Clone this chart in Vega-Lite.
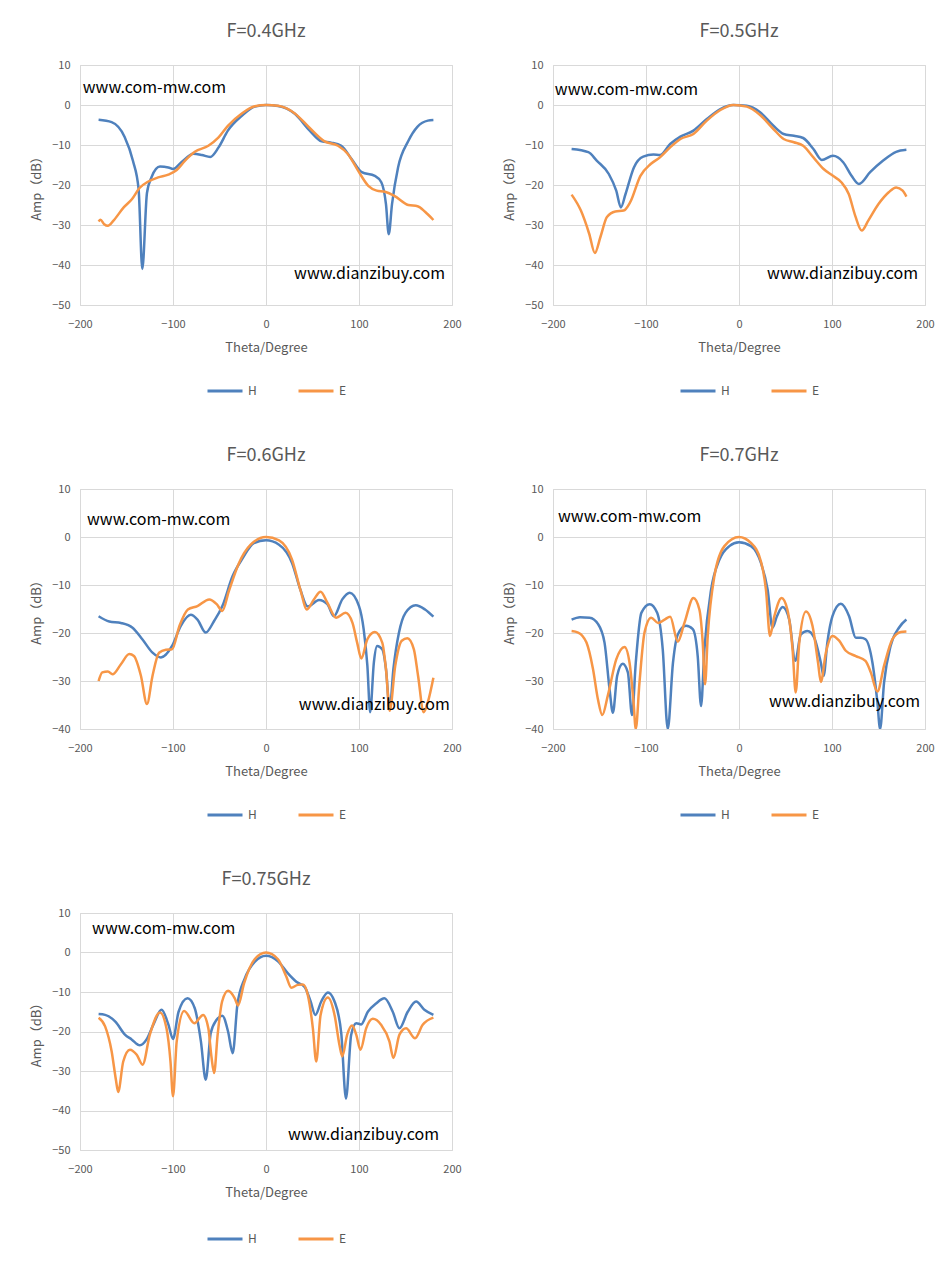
{
  "$schema": "https://vega.github.io/schema/vega-lite/v6.json",
  "background": "white",
  "padding": {"left": 30, "top": 22, "right": 5, "bottom": 5},
  "data": {
    "values": [
      {"f": 0.4, "s": "H", "theta": -180, "amp": -3.7},
      {"f": 0.4, "s": "H", "theta": -166, "amp": -4.3},
      {"f": 0.4, "s": "H", "theta": -152, "amp": -8},
      {"f": 0.4, "s": "H", "theta": -143, "amp": -14},
      {"f": 0.4, "s": "H", "theta": -137, "amp": -21},
      {"f": 0.4, "s": "H", "theta": -133, "amp": -41},
      {"f": 0.4, "s": "H", "theta": -128, "amp": -22},
      {"f": 0.4, "s": "H", "theta": -123, "amp": -18},
      {"f": 0.4, "s": "H", "theta": -114, "amp": -15.4},
      {"f": 0.4, "s": "H", "theta": -105, "amp": -15.6},
      {"f": 0.4, "s": "H", "theta": -100, "amp": -16},
      {"f": 0.4, "s": "H", "theta": -91, "amp": -14.3},
      {"f": 0.4, "s": "H", "theta": -78, "amp": -12.2},
      {"f": 0.4, "s": "H", "theta": -69, "amp": -12.5},
      {"f": 0.4, "s": "H", "theta": -60, "amp": -13},
      {"f": 0.4, "s": "H", "theta": -51, "amp": -10.6},
      {"f": 0.4, "s": "H", "theta": -41, "amp": -6.4},
      {"f": 0.4, "s": "H", "theta": -26, "amp": -2.7},
      {"f": 0.4, "s": "H", "theta": -12, "amp": -0.4},
      {"f": 0.4, "s": "H", "theta": 0, "amp": 0},
      {"f": 0.4, "s": "H", "theta": 13, "amp": -0.25},
      {"f": 0.4, "s": "H", "theta": 31, "amp": -2.2},
      {"f": 0.4, "s": "H", "theta": 47, "amp": -6.4},
      {"f": 0.4, "s": "H", "theta": 60, "amp": -9.1},
      {"f": 0.4, "s": "H", "theta": 70, "amp": -9.4},
      {"f": 0.4, "s": "H", "theta": 81, "amp": -10.2},
      {"f": 0.4, "s": "H", "theta": 92, "amp": -13.5},
      {"f": 0.4, "s": "H", "theta": 103, "amp": -16.8},
      {"f": 0.4, "s": "H", "theta": 117, "amp": -17.7},
      {"f": 0.4, "s": "H", "theta": 124, "amp": -19.3},
      {"f": 0.4, "s": "H", "theta": 129, "amp": -24.8},
      {"f": 0.4, "s": "H", "theta": 132, "amp": -32.3},
      {"f": 0.4, "s": "H", "theta": 135.5, "amp": -24.8},
      {"f": 0.4, "s": "H", "theta": 142, "amp": -15.6},
      {"f": 0.4, "s": "H", "theta": 153, "amp": -9},
      {"f": 0.4, "s": "H", "theta": 163, "amp": -5.4},
      {"f": 0.4, "s": "H", "theta": 174, "amp": -3.9},
      {"f": 0.4, "s": "H", "theta": 180, "amp": -3.75},
      {"f": 0.4, "s": "E", "theta": -180, "amp": -29.1},
      {"f": 0.4, "s": "E", "theta": -178, "amp": -28.7},
      {"f": 0.4, "s": "E", "theta": -174, "amp": -29.8},
      {"f": 0.4, "s": "E", "theta": -170, "amp": -30.2},
      {"f": 0.4, "s": "E", "theta": -164, "amp": -28.9},
      {"f": 0.4, "s": "E", "theta": -153, "amp": -25.6},
      {"f": 0.4, "s": "E", "theta": -144, "amp": -23.5},
      {"f": 0.4, "s": "E", "theta": -136, "amp": -20.75},
      {"f": 0.4, "s": "E", "theta": -127, "amp": -19.2},
      {"f": 0.4, "s": "E", "theta": -116, "amp": -18.1},
      {"f": 0.4, "s": "E", "theta": -105, "amp": -17.4},
      {"f": 0.4, "s": "E", "theta": -96, "amp": -16.25},
      {"f": 0.4, "s": "E", "theta": -87, "amp": -13.9},
      {"f": 0.4, "s": "E", "theta": -76.5, "amp": -11.7},
      {"f": 0.4, "s": "E", "theta": -62, "amp": -10.2},
      {"f": 0.4, "s": "E", "theta": -51, "amp": -8.1},
      {"f": 0.4, "s": "E", "theta": -41, "amp": -5.2},
      {"f": 0.4, "s": "E", "theta": -26, "amp": -2.1},
      {"f": 0.4, "s": "E", "theta": -12, "amp": -0.3},
      {"f": 0.4, "s": "E", "theta": 0, "amp": 0},
      {"f": 0.4, "s": "E", "theta": 13, "amp": -0.2},
      {"f": 0.4, "s": "E", "theta": 31, "amp": -2.1},
      {"f": 0.4, "s": "E", "theta": 47, "amp": -5.75},
      {"f": 0.4, "s": "E", "theta": 63, "amp": -9.1},
      {"f": 0.4, "s": "E", "theta": 77.5, "amp": -10.2},
      {"f": 0.4, "s": "E", "theta": 88, "amp": -12.25},
      {"f": 0.4, "s": "E", "theta": 99, "amp": -16.4},
      {"f": 0.4, "s": "E", "theta": 110, "amp": -20.2},
      {"f": 0.4, "s": "E", "theta": 119, "amp": -21.4},
      {"f": 0.4, "s": "E", "theta": 128, "amp": -21.7},
      {"f": 0.4, "s": "E", "theta": 138, "amp": -22.7},
      {"f": 0.4, "s": "E", "theta": 153, "amp": -25},
      {"f": 0.4, "s": "E", "theta": 163, "amp": -25.3},
      {"f": 0.4, "s": "E", "theta": 171, "amp": -26.7},
      {"f": 0.4, "s": "E", "theta": 180, "amp": -28.75},

      {"f": 0.5, "s": "H", "theta": -180, "amp": -11},
      {"f": 0.5, "s": "H", "theta": -162, "amp": -11.8},
      {"f": 0.5, "s": "H", "theta": -153, "amp": -13.9},
      {"f": 0.5, "s": "H", "theta": -140, "amp": -17.25},
      {"f": 0.5, "s": "H", "theta": -132, "amp": -21.4},
      {"f": 0.5, "s": "H", "theta": -127, "amp": -25.6},
      {"f": 0.5, "s": "H", "theta": -122, "amp": -22.25},
      {"f": 0.5, "s": "H", "theta": -113, "amp": -15.6},
      {"f": 0.5, "s": "H", "theta": -103, "amp": -12.9},
      {"f": 0.5, "s": "H", "theta": -92, "amp": -12.4},
      {"f": 0.5, "s": "H", "theta": -85, "amp": -12.5},
      {"f": 0.5, "s": "H", "theta": -74, "amp": -9.75},
      {"f": 0.5, "s": "H", "theta": -63, "amp": -7.9},
      {"f": 0.5, "s": "H", "theta": -49, "amp": -6.4},
      {"f": 0.5, "s": "H", "theta": -34.6, "amp": -3.5},
      {"f": 0.5, "s": "H", "theta": -20, "amp": -1},
      {"f": 0.5, "s": "H", "theta": -6, "amp": 0},
      {"f": 0.5, "s": "H", "theta": 8.4, "amp": -0.2},
      {"f": 0.5, "s": "H", "theta": 22.7, "amp": -1.8},
      {"f": 0.5, "s": "H", "theta": 37, "amp": -5.2},
      {"f": 0.5, "s": "H", "theta": 48, "amp": -7.25},
      {"f": 0.5, "s": "H", "theta": 59, "amp": -7.7},
      {"f": 0.5, "s": "H", "theta": 69, "amp": -8.25},
      {"f": 0.5, "s": "H", "theta": 80, "amp": -11},
      {"f": 0.5, "s": "H", "theta": 89, "amp": -13.75},
      {"f": 0.5, "s": "H", "theta": 101, "amp": -12.7},
      {"f": 0.5, "s": "H", "theta": 112, "amp": -14.3},
      {"f": 0.5, "s": "H", "theta": 121, "amp": -17.7},
      {"f": 0.5, "s": "H", "theta": 129, "amp": -19.75},
      {"f": 0.5, "s": "H", "theta": 141, "amp": -16.8},
      {"f": 0.5, "s": "H", "theta": 155, "amp": -13.9},
      {"f": 0.5, "s": "H", "theta": 169, "amp": -11.7},
      {"f": 0.5, "s": "H", "theta": 180, "amp": -11.2},
      {"f": 0.5, "s": "E", "theta": -180, "amp": -22.4},
      {"f": 0.5, "s": "E", "theta": -170, "amp": -26.4},
      {"f": 0.5, "s": "E", "theta": -161, "amp": -32.25},
      {"f": 0.5, "s": "E", "theta": -155, "amp": -37},
      {"f": 0.5, "s": "E", "theta": -149, "amp": -33},
      {"f": 0.5, "s": "E", "theta": -142, "amp": -28},
      {"f": 0.5, "s": "E", "theta": -133, "amp": -26.6},
      {"f": 0.5, "s": "E", "theta": -124, "amp": -26.4},
      {"f": 0.5, "s": "E", "theta": -117, "amp": -24.3},
      {"f": 0.5, "s": "E", "theta": -106, "amp": -17.7},
      {"f": 0.5, "s": "E", "theta": -95, "amp": -14.75},
      {"f": 0.5, "s": "E", "theta": -85, "amp": -13.1},
      {"f": 0.5, "s": "E", "theta": -74, "amp": -10.6},
      {"f": 0.5, "s": "E", "theta": -63, "amp": -8.5},
      {"f": 0.5, "s": "E", "theta": -49, "amp": -7.25},
      {"f": 0.5, "s": "E", "theta": -34.6, "amp": -3.9},
      {"f": 0.5, "s": "E", "theta": -20, "amp": -1.25},
      {"f": 0.5, "s": "E", "theta": -6, "amp": 0},
      {"f": 0.5, "s": "E", "theta": 8.4, "amp": -0.4},
      {"f": 0.5, "s": "E", "theta": 22.7, "amp": -2.5},
      {"f": 0.5, "s": "E", "theta": 37, "amp": -6},
      {"f": 0.5, "s": "E", "theta": 48, "amp": -8.5},
      {"f": 0.5, "s": "E", "theta": 59, "amp": -9.3},
      {"f": 0.5, "s": "E", "theta": 69, "amp": -10.2},
      {"f": 0.5, "s": "E", "theta": 80, "amp": -13.1},
      {"f": 0.5, "s": "E", "theta": 91, "amp": -16},
      {"f": 0.5, "s": "E", "theta": 101, "amp": -17.7},
      {"f": 0.5, "s": "E", "theta": 110, "amp": -19.3},
      {"f": 0.5, "s": "E", "theta": 118, "amp": -22.25},
      {"f": 0.5, "s": "E", "theta": 125, "amp": -27.7},
      {"f": 0.5, "s": "E", "theta": 132, "amp": -31.4},
      {"f": 0.5, "s": "E", "theta": 139, "amp": -28.9},
      {"f": 0.5, "s": "E", "theta": 150, "amp": -24.75},
      {"f": 0.5, "s": "E", "theta": 161, "amp": -21.8},
      {"f": 0.5, "s": "E", "theta": 169, "amp": -20.6},
      {"f": 0.5, "s": "E", "theta": 176, "amp": -21.4},
      {"f": 0.5, "s": "E", "theta": 180, "amp": -22.9},

      {"f": 0.6, "s": "H", "theta": -180, "amp": -16.5},
      {"f": 0.6, "s": "H", "theta": -168.5, "amp": -17.6},
      {"f": 0.6, "s": "H", "theta": -156, "amp": -17.9},
      {"f": 0.6, "s": "H", "theta": -143.5, "amp": -18.9},
      {"f": 0.6, "s": "H", "theta": -133, "amp": -21.3},
      {"f": 0.6, "s": "H", "theta": -122, "amp": -24.1},
      {"f": 0.6, "s": "H", "theta": -113, "amp": -25.1},
      {"f": 0.6, "s": "H", "theta": -101, "amp": -22.7},
      {"f": 0.6, "s": "H", "theta": -91.6, "amp": -18.5},
      {"f": 0.6, "s": "H", "theta": -80.9, "amp": -16.2},
      {"f": 0.6, "s": "H", "theta": -73.7, "amp": -17.2},
      {"f": 0.6, "s": "H", "theta": -64.8, "amp": -19.9},
      {"f": 0.6, "s": "H", "theta": -55.8, "amp": -17.5},
      {"f": 0.6, "s": "H", "theta": -46.9, "amp": -14.4},
      {"f": 0.6, "s": "H", "theta": -36, "amp": -8.2},
      {"f": 0.6, "s": "H", "theta": -25, "amp": -4.4},
      {"f": 0.6, "s": "H", "theta": -13, "amp": -1.25},
      {"f": 0.6, "s": "H", "theta": 0, "amp": -0.7},
      {"f": 0.6, "s": "H", "theta": 14, "amp": -1.6},
      {"f": 0.6, "s": "H", "theta": 28, "amp": -5.4},
      {"f": 0.6, "s": "H", "theta": 37, "amp": -11},
      {"f": 0.6, "s": "H", "theta": 45, "amp": -14.5},
      {"f": 0.6, "s": "H", "theta": 57, "amp": -13.1},
      {"f": 0.6, "s": "H", "theta": 66, "amp": -14},
      {"f": 0.6, "s": "H", "theta": 73, "amp": -16.5},
      {"f": 0.6, "s": "H", "theta": 82, "amp": -13},
      {"f": 0.6, "s": "H", "theta": 90, "amp": -11.6},
      {"f": 0.6, "s": "H", "theta": 100, "amp": -14.4},
      {"f": 0.6, "s": "H", "theta": 105, "amp": -19.2},
      {"f": 0.6, "s": "H", "theta": 109, "amp": -26.8},
      {"f": 0.6, "s": "H", "theta": 112, "amp": -36.5},
      {"f": 0.6, "s": "H", "theta": 116, "amp": -26.1},
      {"f": 0.6, "s": "H", "theta": 119.5, "amp": -22.7},
      {"f": 0.6, "s": "H", "theta": 125, "amp": -23.4},
      {"f": 0.6, "s": "H", "theta": 129, "amp": -27.5},
      {"f": 0.6, "s": "H", "theta": 133, "amp": -35.8},
      {"f": 0.6, "s": "H", "theta": 137, "amp": -27.5},
      {"f": 0.6, "s": "H", "theta": 143, "amp": -19.9},
      {"f": 0.6, "s": "H", "theta": 150, "amp": -15.8},
      {"f": 0.6, "s": "H", "theta": 161, "amp": -14.2},
      {"f": 0.6, "s": "H", "theta": 171, "amp": -15.1},
      {"f": 0.6, "s": "H", "theta": 180, "amp": -16.6},
      {"f": 0.6, "s": "E", "theta": -180, "amp": -30},
      {"f": 0.6, "s": "E", "theta": -176, "amp": -28.2},
      {"f": 0.6, "s": "E", "theta": -170, "amp": -28},
      {"f": 0.6, "s": "E", "theta": -165, "amp": -28.6},
      {"f": 0.6, "s": "E", "theta": -156, "amp": -26.5},
      {"f": 0.6, "s": "E", "theta": -147, "amp": -24.4},
      {"f": 0.6, "s": "E", "theta": -142, "amp": -24.8},
      {"f": 0.6, "s": "E", "theta": -134.5, "amp": -28.9},
      {"f": 0.6, "s": "E", "theta": -128, "amp": -34.8},
      {"f": 0.6, "s": "E", "theta": -122, "amp": -28.9},
      {"f": 0.6, "s": "E", "theta": -115, "amp": -24.1},
      {"f": 0.6, "s": "E", "theta": -107.7, "amp": -23.5},
      {"f": 0.6, "s": "E", "theta": -101, "amp": -23.4},
      {"f": 0.6, "s": "E", "theta": -93, "amp": -18.5},
      {"f": 0.6, "s": "E", "theta": -84, "amp": -15.1},
      {"f": 0.6, "s": "E", "theta": -73.7, "amp": -14.4},
      {"f": 0.6, "s": "E", "theta": -61, "amp": -13},
      {"f": 0.6, "s": "E", "theta": -53, "amp": -14},
      {"f": 0.6, "s": "E", "theta": -47, "amp": -15.4},
      {"f": 0.6, "s": "E", "theta": -40, "amp": -11.3},
      {"f": 0.6, "s": "E", "theta": -29, "amp": -5.4},
      {"f": 0.6, "s": "E", "theta": -16.5, "amp": -1.6},
      {"f": 0.6, "s": "E", "theta": 0, "amp": 0},
      {"f": 0.6, "s": "E", "theta": 14, "amp": -0.7},
      {"f": 0.6, "s": "E", "theta": 28, "amp": -4.7},
      {"f": 0.6, "s": "E", "theta": 37, "amp": -11},
      {"f": 0.6, "s": "E", "theta": 44, "amp": -15.1},
      {"f": 0.6, "s": "E", "theta": 51.5, "amp": -13},
      {"f": 0.6, "s": "E", "theta": 58.7, "amp": -11.4},
      {"f": 0.6, "s": "E", "theta": 66, "amp": -13.7},
      {"f": 0.6, "s": "E", "theta": 75.5, "amp": -16.8},
      {"f": 0.6, "s": "E", "theta": 85.5, "amp": -15.8},
      {"f": 0.6, "s": "E", "theta": 93, "amp": -17.9},
      {"f": 0.6, "s": "E", "theta": 98, "amp": -22},
      {"f": 0.6, "s": "E", "theta": 102.5, "amp": -25.3},
      {"f": 0.6, "s": "E", "theta": 109, "amp": -21.3},
      {"f": 0.6, "s": "E", "theta": 117, "amp": -19.8},
      {"f": 0.6, "s": "E", "theta": 125, "amp": -22},
      {"f": 0.6, "s": "E", "theta": 129, "amp": -27.5},
      {"f": 0.6, "s": "E", "theta": 133, "amp": -36.2},
      {"f": 0.6, "s": "E", "theta": 139, "amp": -26.8},
      {"f": 0.6, "s": "E", "theta": 146, "amp": -21.6},
      {"f": 0.6, "s": "E", "theta": 152, "amp": -21.1},
      {"f": 0.6, "s": "E", "theta": 159, "amp": -23.4},
      {"f": 0.6, "s": "E", "theta": 163.5, "amp": -28.9},
      {"f": 0.6, "s": "E", "theta": 169.6, "amp": -36.5},
      {"f": 0.6, "s": "E", "theta": 174, "amp": -34.4},
      {"f": 0.6, "s": "E", "theta": 180, "amp": -29.3},

      {"f": 0.7, "s": "H", "theta": -180, "amp": -17.2},
      {"f": 0.7, "s": "H", "theta": -171, "amp": -16.7},
      {"f": 0.7, "s": "H", "theta": -160.6, "amp": -16.8},
      {"f": 0.7, "s": "H", "theta": -151.7, "amp": -18.1},
      {"f": 0.7, "s": "H", "theta": -144.6, "amp": -22},
      {"f": 0.7, "s": "H", "theta": -139.2, "amp": -31.7},
      {"f": 0.7, "s": "H", "theta": -135.6, "amp": -36.6},
      {"f": 0.7, "s": "H", "theta": -131, "amp": -28.9},
      {"f": 0.7, "s": "H", "theta": -125, "amp": -26.4},
      {"f": 0.7, "s": "H", "theta": -119.5, "amp": -28.2},
      {"f": 0.7, "s": "H", "theta": -115, "amp": -37.1},
      {"f": 0.7, "s": "H", "theta": -111, "amp": -26.2},
      {"f": 0.7, "s": "H", "theta": -105, "amp": -15.8},
      {"f": 0.7, "s": "H", "theta": -96, "amp": -14},
      {"f": 0.7, "s": "H", "theta": -88, "amp": -15.8},
      {"f": 0.7, "s": "H", "theta": -82, "amp": -23.4},
      {"f": 0.7, "s": "H", "theta": -76.6, "amp": -40},
      {"f": 0.7, "s": "H", "theta": -71, "amp": -26.2},
      {"f": 0.7, "s": "H", "theta": -65.8, "amp": -20.3},
      {"f": 0.7, "s": "H", "theta": -56.9, "amp": -18.5},
      {"f": 0.7, "s": "H", "theta": -49.7, "amp": -19.2},
      {"f": 0.7, "s": "H", "theta": -44.4, "amp": -24.8},
      {"f": 0.7, "s": "H", "theta": -40.8, "amp": -35.2},
      {"f": 0.7, "s": "H", "theta": -37.2, "amp": -23.4},
      {"f": 0.7, "s": "H", "theta": -30, "amp": -11},
      {"f": 0.7, "s": "H", "theta": -21, "amp": -4.7},
      {"f": 0.7, "s": "H", "theta": -10.4, "amp": -1.9},
      {"f": 0.7, "s": "H", "theta": 0, "amp": -1.1},
      {"f": 0.7, "s": "H", "theta": 12.9, "amp": -1.9},
      {"f": 0.7, "s": "H", "theta": 23.6, "amp": -5.4},
      {"f": 0.7, "s": "H", "theta": 30.8, "amp": -11},
      {"f": 0.7, "s": "H", "theta": 36, "amp": -18.9},
      {"f": 0.7, "s": "H", "theta": 40.8, "amp": -16.5},
      {"f": 0.7, "s": "H", "theta": 46.9, "amp": -14.6},
      {"f": 0.7, "s": "H", "theta": 54, "amp": -17.2},
      {"f": 0.7, "s": "H", "theta": 60.5, "amp": -25.8},
      {"f": 0.7, "s": "H", "theta": 66.5, "amp": -20.3},
      {"f": 0.7, "s": "H", "theta": 73.7, "amp": -19.6},
      {"f": 0.7, "s": "H", "theta": 80.9, "amp": -21},
      {"f": 0.7, "s": "H", "theta": 88, "amp": -26.2},
      {"f": 0.7, "s": "H", "theta": 91, "amp": -28.9},
      {"f": 0.7, "s": "H", "theta": 95, "amp": -22},
      {"f": 0.7, "s": "H", "theta": 100.5, "amp": -16.5},
      {"f": 0.7, "s": "H", "theta": 109.5, "amp": -13.9},
      {"f": 0.7, "s": "H", "theta": 118.4, "amp": -16.5},
      {"f": 0.7, "s": "H", "theta": 125.6, "amp": -21},
      {"f": 0.7, "s": "H", "theta": 131, "amp": -21},
      {"f": 0.7, "s": "H", "theta": 136, "amp": -21.3},
      {"f": 0.7, "s": "H", "theta": 143.5, "amp": -26.2},
      {"f": 0.7, "s": "H", "theta": 148.8, "amp": -34.4},
      {"f": 0.7, "s": "H", "theta": 151.7, "amp": -40},
      {"f": 0.7, "s": "H", "theta": 156, "amp": -30.3},
      {"f": 0.7, "s": "H", "theta": 163, "amp": -22.7},
      {"f": 0.7, "s": "H", "theta": 172, "amp": -18.9},
      {"f": 0.7, "s": "H", "theta": 180, "amp": -17.2},
      {"f": 0.7, "s": "E", "theta": -180, "amp": -19.6},
      {"f": 0.7, "s": "E", "theta": -173, "amp": -19.9},
      {"f": 0.7, "s": "E", "theta": -164, "amp": -22},
      {"f": 0.7, "s": "E", "theta": -157, "amp": -27.5},
      {"f": 0.7, "s": "E", "theta": -151.7, "amp": -33.8},
      {"f": 0.7, "s": "E", "theta": -147, "amp": -37.1},
      {"f": 0.7, "s": "E", "theta": -141, "amp": -33},
      {"f": 0.7, "s": "E", "theta": -132, "amp": -25.5},
      {"f": 0.7, "s": "E", "theta": -123, "amp": -22.9},
      {"f": 0.7, "s": "E", "theta": -117.7, "amp": -26.2},
      {"f": 0.7, "s": "E", "theta": -113.4, "amp": -34.4},
      {"f": 0.7, "s": "E", "theta": -111, "amp": -40},
      {"f": 0.7, "s": "E", "theta": -107, "amp": -30.3},
      {"f": 0.7, "s": "E", "theta": -101.6, "amp": -19.9},
      {"f": 0.7, "s": "E", "theta": -94.5, "amp": -16.8},
      {"f": 0.7, "s": "E", "theta": -87, "amp": -17.9},
      {"f": 0.7, "s": "E", "theta": -80, "amp": -17.2},
      {"f": 0.7, "s": "E", "theta": -74, "amp": -16.6},
      {"f": 0.7, "s": "E", "theta": -65.8, "amp": -21.8},
      {"f": 0.7, "s": "E", "theta": -58.7, "amp": -17.9},
      {"f": 0.7, "s": "E", "theta": -49, "amp": -12.7},
      {"f": 0.7, "s": "E", "theta": -42.6, "amp": -15.1},
      {"f": 0.7, "s": "E", "theta": -39, "amp": -22},
      {"f": 0.7, "s": "E", "theta": -36.5, "amp": -30.7},
      {"f": 0.7, "s": "E", "theta": -33.6, "amp": -20.6},
      {"f": 0.7, "s": "E", "theta": -26.5, "amp": -8.2},
      {"f": 0.7, "s": "E", "theta": -15.7, "amp": -1.9},
      {"f": 0.7, "s": "E", "theta": 0, "amp": 0},
      {"f": 0.7, "s": "E", "theta": 12.9, "amp": -1.25},
      {"f": 0.7, "s": "E", "theta": 23.6, "amp": -5.1},
      {"f": 0.7, "s": "E", "theta": 29, "amp": -11},
      {"f": 0.7, "s": "E", "theta": 33.3, "amp": -20.6},
      {"f": 0.7, "s": "E", "theta": 38, "amp": -16.5},
      {"f": 0.7, "s": "E", "theta": 45.8, "amp": -12.7},
      {"f": 0.7, "s": "E", "theta": 52, "amp": -15.1},
      {"f": 0.7, "s": "E", "theta": 57.6, "amp": -23.4},
      {"f": 0.7, "s": "E", "theta": 61, "amp": -32.4},
      {"f": 0.7, "s": "E", "theta": 64.8, "amp": -22},
      {"f": 0.7, "s": "E", "theta": 72, "amp": -15.5},
      {"f": 0.7, "s": "E", "theta": 79, "amp": -18.5},
      {"f": 0.7, "s": "E", "theta": 85, "amp": -26.2},
      {"f": 0.7, "s": "E", "theta": 88, "amp": -30.2},
      {"f": 0.7, "s": "E", "theta": 93.4, "amp": -24.1},
      {"f": 0.7, "s": "E", "theta": 100.5, "amp": -20.6},
      {"f": 0.7, "s": "E", "theta": 107.7, "amp": -21.6},
      {"f": 0.7, "s": "E", "theta": 114.8, "amp": -23.7},
      {"f": 0.7, "s": "E", "theta": 125.6, "amp": -24.8},
      {"f": 0.7, "s": "E", "theta": 136, "amp": -25.8},
      {"f": 0.7, "s": "E", "theta": 141.7, "amp": -28.2},
      {"f": 0.7, "s": "E", "theta": 148.8, "amp": -32.2},
      {"f": 0.7, "s": "E", "theta": 156, "amp": -26.8},
      {"f": 0.7, "s": "E", "theta": 165, "amp": -21.3},
      {"f": 0.7, "s": "E", "theta": 174, "amp": -19.8},
      {"f": 0.7, "s": "E", "theta": 180, "amp": -19.7},

      {"f": 0.75, "s": "H", "theta": -180, "amp": -15.6},
      {"f": 0.75, "s": "H", "theta": -173, "amp": -15.8},
      {"f": 0.75, "s": "H", "theta": -162, "amp": -17.5},
      {"f": 0.75, "s": "H", "theta": -151.7, "amp": -20.8},
      {"f": 0.75, "s": "H", "theta": -144.5, "amp": -22},
      {"f": 0.75, "s": "H", "theta": -135.6, "amp": -23.5},
      {"f": 0.75, "s": "H", "theta": -128.4, "amp": -22},
      {"f": 0.75, "s": "H", "theta": -121, "amp": -18.2},
      {"f": 0.75, "s": "H", "theta": -112.3, "amp": -14.5},
      {"f": 0.75, "s": "H", "theta": -105, "amp": -18.2},
      {"f": 0.75, "s": "H", "theta": -100, "amp": -21.9},
      {"f": 0.75, "s": "H", "theta": -94, "amp": -15},
      {"f": 0.75, "s": "H", "theta": -84.4, "amp": -11.6},
      {"f": 0.75, "s": "H", "theta": -76.6, "amp": -14.1},
      {"f": 0.75, "s": "H", "theta": -70, "amp": -22.5},
      {"f": 0.75, "s": "H", "theta": -64.8, "amp": -32.2},
      {"f": 0.75, "s": "H", "theta": -59.4, "amp": -20.4},
      {"f": 0.75, "s": "H", "theta": -53.3, "amp": -17.1},
      {"f": 0.75, "s": "H", "theta": -46.9, "amp": -16},
      {"f": 0.75, "s": "H", "theta": -40.8, "amp": -20},
      {"f": 0.75, "s": "H", "theta": -35.8, "amp": -25.5},
      {"f": 0.75, "s": "H", "theta": -30.8, "amp": -13.3},
      {"f": 0.75, "s": "H", "theta": -22.9, "amp": -6.6},
      {"f": 0.75, "s": "H", "theta": -12.2, "amp": -2.4},
      {"f": 0.75, "s": "H", "theta": 0, "amp": -0.8},
      {"f": 0.75, "s": "H", "theta": 12.9, "amp": -2.2},
      {"f": 0.75, "s": "H", "theta": 23.6, "amp": -5.3},
      {"f": 0.75, "s": "H", "theta": 32.6, "amp": -7.4},
      {"f": 0.75, "s": "H", "theta": 41.5, "amp": -8.7},
      {"f": 0.75, "s": "H", "theta": 48, "amp": -12.4},
      {"f": 0.75, "s": "H", "theta": 53, "amp": -15.8},
      {"f": 0.75, "s": "H", "theta": 59.4, "amp": -12.4},
      {"f": 0.75, "s": "H", "theta": 66.5, "amp": -10.1},
      {"f": 0.75, "s": "H", "theta": 73.7, "amp": -12.4},
      {"f": 0.75, "s": "H", "theta": 80.9, "amp": -20.4},
      {"f": 0.75, "s": "H", "theta": 86, "amp": -37},
      {"f": 0.75, "s": "H", "theta": 91.6, "amp": -20.8},
      {"f": 0.75, "s": "H", "theta": 97, "amp": -17.9},
      {"f": 0.75, "s": "H", "theta": 102.3, "amp": -18.2},
      {"f": 0.75, "s": "H", "theta": 109.5, "amp": -15},
      {"f": 0.75, "s": "H", "theta": 118.4, "amp": -12.9},
      {"f": 0.75, "s": "H", "theta": 127.4, "amp": -11.6},
      {"f": 0.75, "s": "H", "theta": 136.3, "amp": -15},
      {"f": 0.75, "s": "H", "theta": 143.5, "amp": -19.2},
      {"f": 0.75, "s": "H", "theta": 152.4, "amp": -15},
      {"f": 0.75, "s": "H", "theta": 161.4, "amp": -12.4},
      {"f": 0.75, "s": "H", "theta": 170.3, "amp": -14.5},
      {"f": 0.75, "s": "H", "theta": 180, "amp": -15.8},
      {"f": 0.75, "s": "E", "theta": -180, "amp": -16.5},
      {"f": 0.75, "s": "E", "theta": -173, "amp": -18.7},
      {"f": 0.75, "s": "E", "theta": -166, "amp": -25},
      {"f": 0.75, "s": "E", "theta": -161.4, "amp": -32.2},
      {"f": 0.75, "s": "E", "theta": -159, "amp": -35.3},
      {"f": 0.75, "s": "E", "theta": -153.5, "amp": -27.6},
      {"f": 0.75, "s": "E", "theta": -146.3, "amp": -24.6},
      {"f": 0.75, "s": "E", "theta": -139, "amp": -25.9},
      {"f": 0.75, "s": "E", "theta": -132.7, "amp": -28.4},
      {"f": 0.75, "s": "E", "theta": -124.9, "amp": -20.8},
      {"f": 0.75, "s": "E", "theta": -114, "amp": -15.2},
      {"f": 0.75, "s": "E", "theta": -107, "amp": -19.2},
      {"f": 0.75, "s": "E", "theta": -102.7, "amp": -27.6},
      {"f": 0.75, "s": "E", "theta": -100, "amp": -36.4},
      {"f": 0.75, "s": "E", "theta": -96, "amp": -22.5},
      {"f": 0.75, "s": "E", "theta": -88, "amp": -14.8},
      {"f": 0.75, "s": "E", "theta": -77, "amp": -17.9},
      {"f": 0.75, "s": "E", "theta": -67.6, "amp": -15.8},
      {"f": 0.75, "s": "E", "theta": -62, "amp": -19.2},
      {"f": 0.75, "s": "E", "theta": -58.7, "amp": -26.3},
      {"f": 0.75, "s": "E", "theta": -55.8, "amp": -30.5},
      {"f": 0.75, "s": "E", "theta": -52, "amp": -20.8},
      {"f": 0.75, "s": "E", "theta": -47.2, "amp": -12.4},
      {"f": 0.75, "s": "E", "theta": -40.8, "amp": -9.7},
      {"f": 0.75, "s": "E", "theta": -33.6, "amp": -11.6},
      {"f": 0.75, "s": "E", "theta": -30, "amp": -13.4},
      {"f": 0.75, "s": "E", "theta": -23.6, "amp": -7.8},
      {"f": 0.75, "s": "E", "theta": -12.2, "amp": -1.7},
      {"f": 0.75, "s": "E", "theta": 0, "amp": 0},
      {"f": 0.75, "s": "E", "theta": 12.9, "amp": -1.7},
      {"f": 0.75, "s": "E", "theta": 21.8, "amp": -6.1},
      {"f": 0.75, "s": "E", "theta": 27.2, "amp": -8.9},
      {"f": 0.75, "s": "E", "theta": 34.3, "amp": -8.2},
      {"f": 0.75, "s": "E", "theta": 39.7, "amp": -8.1},
      {"f": 0.75, "s": "E", "theta": 45, "amp": -10.8},
      {"f": 0.75, "s": "E", "theta": 50.4, "amp": -19.2},
      {"f": 0.75, "s": "E", "theta": 54, "amp": -27.6},
      {"f": 0.75, "s": "E", "theta": 58.7, "amp": -15.8},
      {"f": 0.75, "s": "E", "theta": 66.5, "amp": -11.4},
      {"f": 0.75, "s": "E", "theta": 73.7, "amp": -15.8},
      {"f": 0.75, "s": "E", "theta": 79, "amp": -23.4},
      {"f": 0.75, "s": "E", "theta": 82, "amp": -26.3},
      {"f": 0.75, "s": "E", "theta": 87.3, "amp": -20.8},
      {"f": 0.75, "s": "E", "theta": 92.6, "amp": -18.5},
      {"f": 0.75, "s": "E", "theta": 97, "amp": -20.8},
      {"f": 0.75, "s": "E", "theta": 101.6, "amp": -24.6},
      {"f": 0.75, "s": "E", "theta": 107.7, "amp": -19.2},
      {"f": 0.75, "s": "E", "theta": 114.8, "amp": -16.8},
      {"f": 0.75, "s": "E", "theta": 123.7, "amp": -18.3},
      {"f": 0.75, "s": "E", "theta": 132.7, "amp": -22.5},
      {"f": 0.75, "s": "E", "theta": 137, "amp": -26.7},
      {"f": 0.75, "s": "E", "theta": 143.5, "amp": -20.8},
      {"f": 0.75, "s": "E", "theta": 150.6, "amp": -19.2},
      {"f": 0.75, "s": "E", "theta": 160.3, "amp": -21.7},
      {"f": 0.75, "s": "E", "theta": 168.5, "amp": -18.3},
      {"f": 0.75, "s": "E", "theta": 180, "amp": -16.5}
    ]
  },
  "columns": 2,
  "spacing": {"row": 48, "column": 41},
  "resolve": {"scale": {"color": "independent", "y": "independent", "x": "independent"}, "legend": {"color": "independent"}},
  "concat": [
    {
      "title": "F=0.4GHz",
      "width": 372,
      "height": 240,
      "layer": [
        {
          "transform": [{"filter": "datum.f == 0.4"}],
          "mark": {"type": "line", "interpolate": "monotone", "strokeWidth": 2.5},
          "encoding": {
            "x": {"field": "theta", "type": "quantitative", "scale": {"domain": [-200, 200], "nice": false}, "axis": {"values": [-200, -100, 0, 100, 200], "tickCount": 20, "title": "Theta/Degree"}},
            "y": {"field": "amp", "type": "quantitative", "scale": {"domain": [-50, 10], "nice": false}, "axis": {"values": [10, 0, -10, -20, -30, -40, -50], "tickCount": 20, "title": "Amp（dB）"}},
            "color": {"field": "s", "type": "nominal", "sort": ["H", "E"], "scale": {"domain": ["H", "E"], "range": ["#4F81BD", "#F79646"]}, "legend": {"title": null}}
          }
        },
        {
          "data": {"values": [{}]},
          "mark": {"type": "text", "align": "left", "baseline": "middle", "fontSize": 16, "font": "Noto Sans CJK SC", "color": "black"},
          "encoding": {"x": {"datum": -197}, "y": {"datum": 4.25}, "text": {"value": "www.com-mw.com"}}
        },
        {
          "data": {"values": [{}]},
          "mark": {"type": "text", "align": "right", "baseline": "middle", "fontSize": 16, "font": "Noto Sans CJK SC", "color": "black"},
          "encoding": {"x": {"datum": 192.5}, "y": {"datum": -42.25}, "text": {"value": "www.dianzibuy.com"}}
        }
      ]
    },
    {
      "title": "F=0.5GHz",
      "width": 372,
      "height": 240,
      "layer": [
        {
          "transform": [{"filter": "datum.f == 0.5"}],
          "mark": {"type": "line", "interpolate": "monotone", "strokeWidth": 2.5},
          "encoding": {
            "x": {"field": "theta", "type": "quantitative", "scale": {"domain": [-200, 200], "nice": false}, "axis": {"values": [-200, -100, 0, 100, 200], "tickCount": 20, "title": "Theta/Degree"}},
            "y": {"field": "amp", "type": "quantitative", "scale": {"domain": [-50, 10], "nice": false}, "axis": {"values": [10, 0, -10, -20, -30, -40, -50], "tickCount": 20, "title": "Amp（dB）"}},
            "color": {"field": "s", "type": "nominal", "sort": ["H", "E"], "scale": {"domain": ["H", "E"], "range": ["#4F81BD", "#F79646"]}, "legend": {"title": null}}
          }
        },
        {
          "data": {"values": [{}]},
          "mark": {"type": "text", "align": "left", "baseline": "middle", "fontSize": 16, "font": "Noto Sans CJK SC", "color": "black"},
          "encoding": {"x": {"datum": -198}, "y": {"datum": 3.75}, "text": {"value": "www.com-mw.com"}}
        },
        {
          "data": {"values": [{}]},
          "mark": {"type": "text", "align": "right", "baseline": "middle", "fontSize": 16, "font": "Noto Sans CJK SC", "color": "black"},
          "encoding": {"x": {"datum": 192.5}, "y": {"datum": -42.3}, "text": {"value": "www.dianzibuy.com"}}
        }
      ]
    },
    {
      "title": "F=0.6GHz",
      "width": 372,
      "height": 240,
      "layer": [
        {
          "transform": [{"filter": "datum.f == 0.6"}],
          "mark": {"type": "line", "interpolate": "monotone", "strokeWidth": 2.5},
          "encoding": {
            "x": {"field": "theta", "type": "quantitative", "scale": {"domain": [-200, 200], "nice": false}, "axis": {"values": [-200, -100, 0, 100, 200], "tickCount": 20, "title": "Theta/Degree"}},
            "y": {"field": "amp", "type": "quantitative", "scale": {"domain": [-40, 10], "nice": false}, "axis": {"values": [10, 0, -10, -20, -30, -40], "tickCount": 20, "title": "Amp（dB）"}},
            "color": {"field": "s", "type": "nominal", "sort": ["H", "E"], "scale": {"domain": ["H", "E"], "range": ["#4F81BD", "#F79646"]}, "legend": {"title": null}}
          }
        },
        {
          "data": {"values": [{}]},
          "mark": {"type": "text", "align": "left", "baseline": "middle", "fontSize": 16, "font": "Noto Sans CJK SC", "color": "black"},
          "encoding": {"x": {"datum": -192.5}, "y": {"datum": 3.5}, "text": {"value": "www.com-mw.com"}}
        },
        {
          "data": {"values": [{}]},
          "mark": {"type": "text", "align": "right", "baseline": "middle", "fontSize": 16, "font": "Noto Sans CJK SC", "color": "black"},
          "encoding": {"x": {"datum": 197.6}, "y": {"datum": -35}, "text": {"value": "www.dianzibuy.com"}}
        }
      ]
    },
    {
      "title": "F=0.7GHz",
      "width": 372,
      "height": 240,
      "layer": [
        {
          "transform": [{"filter": "datum.f == 0.7"}],
          "mark": {"type": "line", "interpolate": "monotone", "strokeWidth": 2.5, "clip": true},
          "encoding": {
            "x": {"field": "theta", "type": "quantitative", "scale": {"domain": [-200, 200], "nice": false}, "axis": {"values": [-200, -100, 0, 100, 200], "tickCount": 20, "title": "Theta/Degree"}},
            "y": {"field": "amp", "type": "quantitative", "scale": {"domain": [-40, 10], "nice": false}, "axis": {"values": [10, 0, -10, -20, -30, -40], "tickCount": 20, "title": "Amp（dB）"}},
            "color": {"field": "s", "type": "nominal", "sort": ["H", "E"], "scale": {"domain": ["H", "E"], "range": ["#4F81BD", "#F79646"]}, "legend": {"title": null}}
          }
        },
        {
          "data": {"values": [{}]},
          "mark": {"type": "text", "align": "left", "baseline": "middle", "fontSize": 16, "font": "Noto Sans CJK SC", "color": "black"},
          "encoding": {"x": {"datum": -194.6}, "y": {"datum": 4.2}, "text": {"value": "www.com-mw.com"}}
        },
        {
          "data": {"values": [{}]},
          "mark": {"type": "text", "align": "right", "baseline": "middle", "fontSize": 16, "font": "Noto Sans CJK SC", "color": "black"},
          "encoding": {"x": {"datum": 194.6}, "y": {"datum": -34.4}, "text": {"value": "www.dianzibuy.com"}}
        }
      ]
    },
    {
      "title": "F=0.75GHz",
      "width": 372,
      "height": 237,
      "layer": [
        {
          "transform": [{"filter": "datum.f == 0.75"}],
          "mark": {"type": "line", "interpolate": "monotone", "strokeWidth": 2.5},
          "encoding": {
            "x": {"field": "theta", "type": "quantitative", "scale": {"domain": [-200, 200], "nice": false}, "axis": {"values": [-200, -100, 0, 100, 200], "tickCount": 20, "title": "Theta/Degree"}},
            "y": {"field": "amp", "type": "quantitative", "scale": {"domain": [-50, 10], "nice": false}, "axis": {"values": [10, 0, -10, -20, -30, -40, -50], "tickCount": 20, "title": "Amp（dB）"}},
            "color": {"field": "s", "type": "nominal", "sort": ["H", "E"], "scale": {"domain": ["H", "E"], "range": ["#4F81BD", "#F79646"]}, "legend": {"title": null}}
          }
        },
        {
          "data": {"values": [{}]},
          "mark": {"type": "text", "align": "left", "baseline": "middle", "fontSize": 16, "font": "Noto Sans CJK SC", "color": "black"},
          "encoding": {"x": {"datum": -187}, "y": {"datum": 6}, "text": {"value": "www.com-mw.com"}}
        },
        {
          "data": {"values": [{}]},
          "mark": {"type": "text", "align": "right", "baseline": "middle", "fontSize": 16, "font": "Noto Sans CJK SC", "color": "black"},
          "encoding": {"x": {"datum": 186}, "y": {"datum": -46.2}, "text": {"value": "www.dianzibuy.com"}}
        }
      ]
    }
  ],
  "config": {
    "font": "Noto Sans CJK SC",
    "view": {"stroke": "#d9d9d9"},
    "title": {"fontSize": 18, "fontWeight": "normal", "color": "#595959", "offset": 18, "font": "Noto Sans CJK SC"},
    "axis": {
      "labelColor": "#595959",
      "labelFontSize": 11,
      "labelFont": "Noto Sans CJK SC",
      "labelOverlap": false,
      "labelFlush": false,
      "titleColor": "#595959",
      "titleFontSize": 13,
      "titleFontWeight": "normal",
      "titleFont": "Noto Sans CJK SC",
      "gridColor": "#d9d9d9",
      "domain": false,
      "ticks": false
    },
    "axisX": {"labelPadding": 13, "titlePadding": 12},
    "axisY": {"labelPadding": 10, "titlePadding": 8},
    "legend": {
      "orient": "none",
      "legendX": 126,
      "legendY": 307,
      "direction": "horizontal",
      "symbolType": "stroke",
      "symbolSize": 1225,
      "symbolStrokeWidth": 3,
      "labelFontSize": 12,
      "labelColor": "#595959",
      "labelFont": "Noto Sans CJK SC",
      "columnPadding": 35
    }
  }
}
